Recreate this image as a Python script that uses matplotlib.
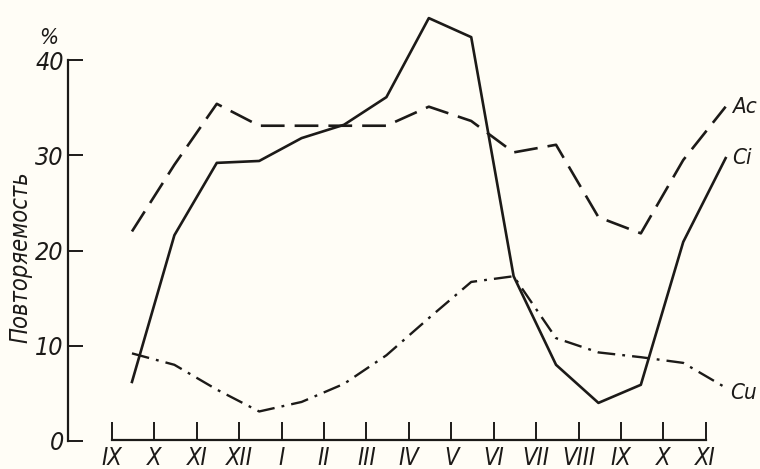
import matplotlib
matplotlib.use('Agg')
import matplotlib.pyplot as plt
import numpy as np

plt.rcParams['font.family'] = ['DejaVu Sans']
plt.rcParams['font.stretch'] = 'condensed'

months = ['IX', 'X', 'XI', 'XII', 'I', 'II', 'III', 'IV', 'V', 'VI', 'VII', 'VIII', 'IX', 'X', 'XI']
ac = [22.0, 29.0, 35.4, 33.1, 33.1, 33.1, 33.1, 35.1, 33.6, 30.3, 31.1, 23.5, 21.8, 29.5, 35.1]
ci = [6.2, 21.6, 29.2, 29.4, 31.8, 33.2, 36.1, 44.4, 42.4, 17.3, 8.0, 4.0, 5.9, 20.9, 29.7]
cu = [9.2, 8.0, 5.4, 3.1, 4.1, 6.0, 9.0, 12.9, 16.7, 17.3, 10.8, 9.3, 8.8, 8.2, 5.6]

ink = '#1c1a18'
x = np.arange(len(months)) + 0.47

fig = plt.figure(figsize=(7.6, 4.69), dpi=100)
fig.patch.set_facecolor('#fffdf6')
ax = fig.add_axes([0, 0, 1, 1])
ax.set_facecolor('#fffdf6')
ax.set_xlim(-2.642, 15.28)
ax.set_ylim(-2.94, 46.3)

ax.plot(x, ac, color=ink, lw=1.9, dashes=(9, 3.8))
ax.plot(x, ci, color=ink, lw=1.9)
ax.plot(x, cu, color=ink, lw=1.7, dashes=(7.5, 3, 1.2, 3))

lab = dict(fontsize=16, style='italic', color=ink, va='center', stretch='condensed')
ax.text(x[-1] + 0.15, ac[-1], 'Ac', **lab)
ax.text(x[-1] + 0.15, ci[-1], 'Ci', **lab)
ax.text(x[-1] + 0.1, cu[-1] - 0.6, 'Cu', **lab)

# axes drawn like the book figure
for s in ['top', 'right']:
    ax.spines[s].set_visible(False)
ax.spines['left'].set_position(('data', -1.04))
ax.spines['left'].set_bounds(0, 40)
ax.spines['bottom'].set_position(('data', 0.1))
ax.spines['bottom'].set_bounds(0, 14)
for s in ['left', 'bottom']:
    ax.spines[s].set_color(ink)
    ax.spines[s].set_linewidth(1.6)

ax.set_yticks([0, 10, 20, 30, 40])
ax.set_yticklabels(['0', '10', '20', '30', '40'], fontsize=18, style='italic',
                   color=ink, stretch='condensed')
ax.set_xticks(np.arange(len(months)))
ax.set_xticklabels(months, fontsize=17, style='italic', color=ink, stretch='condensed')
ax.tick_params(axis='y', direction='in', length=11, width=1.4, color=ink, pad=3)
ax.tick_params(axis='x', direction='in', length=13, width=1.4, color=ink, pad=4)

ax.text(-1.5, 42.3, '%', fontsize=16, style='italic', color=ink, ha='center', va='center')
ax.text(-2.15, 19.3, 'Повторяемость', fontsize=17, style='italic', color=ink,
        rotation=90, ha='center', va='center', stretch='condensed')

fig.savefig('out.png', dpi=100, facecolor=fig.get_facecolor())
